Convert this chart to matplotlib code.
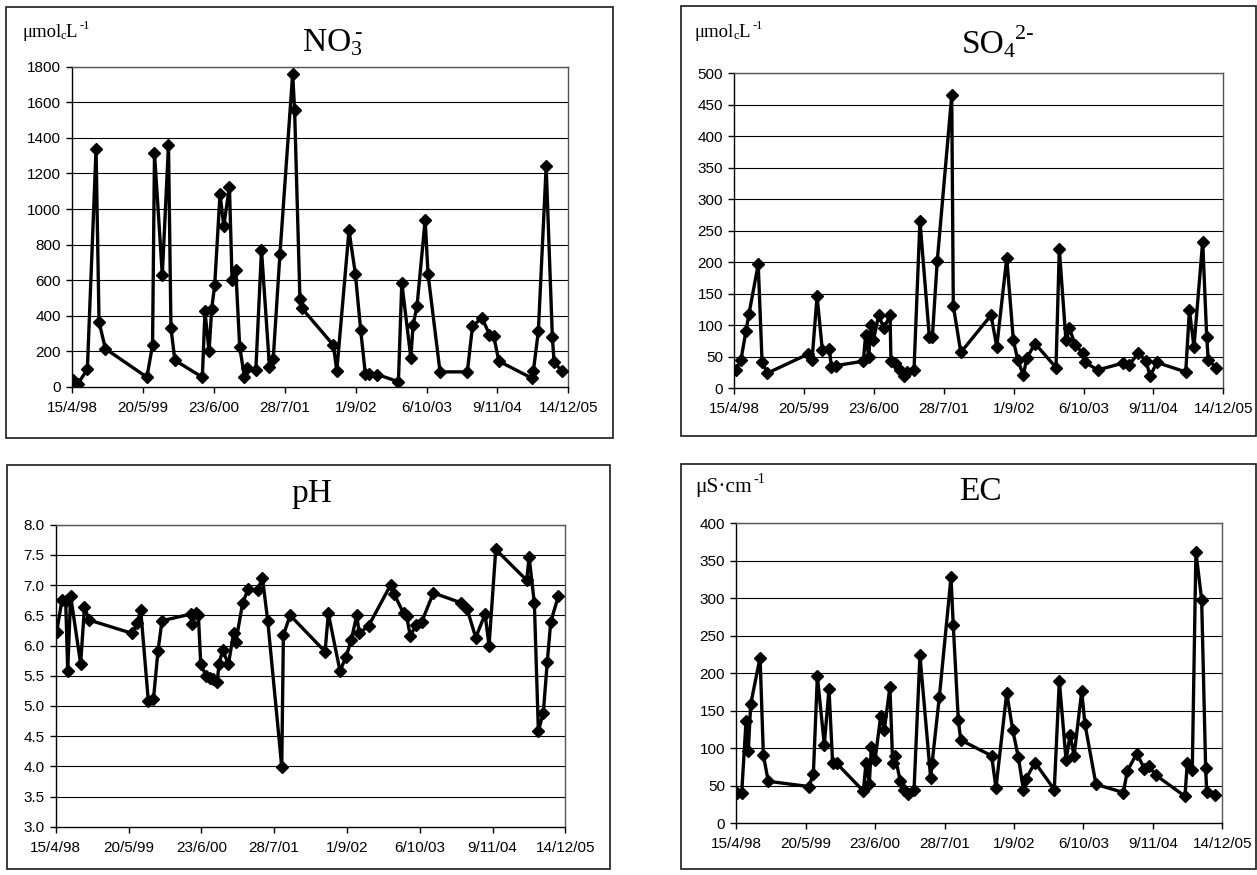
import matplotlib
matplotlib.use("Agg")
import matplotlib.pyplot as plt
from matplotlib.patches import Rectangle

# ---- data (x = days since 15/4/98) ----
xtick_labels = ['15/4/98', '20/5/99', '23/6/00', '28/7/01', '1/9/02', '6/10/03', '9/11/04', '14/12/05']
xtick_days = [0, 400, 800, 1200, 1600, 2000, 2400, 2800]

no3_days = [2, 30, 85, 134, 151, 187, 421, 453, 464, 508, 543, 557, 579, 734, 749, 772,
            787, 804, 834, 855, 887, 902, 923, 945, 972, 987, 1036, 1068, 1113, 1134, 1172,
            1244, 1255, 1285, 1294, 1474, 1493, 1562, 1598, 1628, 1654, 1675, 1722, 1841,
            1860, 1911, 1924, 1946, 1992, 2008, 2076, 2230, 2259, 2312, 2355, 2379, 2408,
            2594, 2603, 2631, 2675, 2710, 2720, 2763]
no3_vals = [40, 15, 100, 1335, 365, 215, 55, 235, 1315, 630, 1360, 330, 150, 55, 425, 200,
            440, 575, 1085, 905, 1125, 600, 655, 225, 55, 105, 95, 770, 115, 155, 745,
            1760, 1555, 495, 445, 235, 90, 880, 635, 320, 75, 75, 70, 30,
            585, 165, 350, 455, 940, 635, 85, 85, 340, 390, 295, 285, 145,
            50, 90, 315, 1240, 280, 140, 90]

so4_days = [10, 38, 67, 84, 137, 159, 189, 420, 445, 474, 504, 544, 556, 581, 739, 752,
            770, 781, 796, 827, 856, 892, 897, 920, 949, 972, 991, 1029, 1063, 1117, 1134,
            1162, 1245, 1254, 1297, 1470, 1503, 1560, 1598, 1623, 1655, 1675, 1722, 1842,
            1861, 1899, 1919, 1952, 1995, 2010, 2081, 2224, 2260, 2314, 2358, 2381, 2419,
            2585, 2606, 2632, 2682, 2705, 2714, 2758]
so4_vals = [29, 45, 91, 118, 197, 42, 24, 54, 45, 146, 61, 63, 34, 36, 43, 85,
            50, 100, 76, 116, 95, 116, 43, 40, 29, 20, 26, 29, 266, 81, 81,
            202, 465, 131, 57, 116, 66, 207, 76, 45, 21, 48, 71, 33,
            221, 76, 95, 69, 56, 41, 29, 40, 37, 56, 43, 19, 41,
            26, 124, 66, 233, 81, 45, 33]

ph_days = [5, 35, 55, 66, 82, 137, 158, 185, 421, 449, 467, 509, 537, 562, 584, 742,
           749, 773, 784, 797, 826, 848, 866, 888, 897, 918, 949, 978, 989, 1027, 1057,
           1110, 1136, 1165, 1242, 1251, 1288, 1480, 1498, 1562, 1595, 1624, 1654, 1668,
           1720, 1840, 1860, 1912, 1928, 1948, 1980, 2011, 2075, 2225, 2260, 2308, 2359,
           2381, 2418, 2588, 2601, 2630, 2652, 2679, 2701, 2720, 2762]
ph_vals = [6.22, 6.76, 6.73, 5.57, 6.82, 5.70, 6.63, 6.42, 6.20, 6.38, 6.59, 5.08, 5.11, 5.91, 6.41, 6.52,
           6.36, 6.54, 6.50, 5.69, 5.50, 5.46, 5.45, 5.40, 5.70, 5.92, 5.69, 6.21, 6.05, 6.70, 6.93,
           6.92, 7.12, 6.41, 3.99, 6.17, 6.50, 5.90, 6.53, 5.58, 5.81, 6.09, 6.50, 6.20,
           6.33, 7.00, 6.85, 6.53, 6.49, 6.16, 6.34, 6.39, 6.87, 6.71, 6.61, 6.13, 6.52,
           6.00, 7.59, 7.08, 7.47, 6.70, 4.59, 4.88, 5.73, 6.39, 6.82]

ec_days = [2, 31, 56, 69, 83, 137, 156, 184, 419, 444, 467, 507, 534, 555, 578, 732,
           747, 766, 778, 799, 832, 853, 885, 901, 914, 945, 966, 989, 1024, 1058, 1120,
           1128, 1170, 1237, 1250, 1279, 1293, 1471, 1496, 1558, 1593, 1625, 1654, 1668,
           1721, 1832, 1861, 1900, 1923, 1946, 1990, 2009, 2072, 2230, 2253, 2307, 2351,
           2378, 2418, 2585, 2598, 2627, 2648, 2681, 2704, 2710, 2758]
ec_vals = [40, 40, 136, 96, 159, 221, 91, 56, 49, 66, 196, 105, 179, 80, 80, 43,
           80, 52, 102, 84, 143, 125, 182, 80, 90, 56, 44, 39, 45, 224, 60,
           80, 169, 328, 264, 138, 111, 90, 47, 174, 124, 88, 45, 59,
           81, 45, 190, 84, 118, 90, 176, 132, 52, 41, 70, 93, 73,
           76, 64, 36, 80, 71, 362, 298, 74, 42, 38]

no3_yticks = list(range(0, 1801, 200))
so4_yticks = list(range(0, 501, 50))
ph_yticks = [3.0, 3.5, 4.0, 4.5, 5.0, 5.5, 6.0, 6.5, 7.0, 7.5, 8.0]
ec_yticks = list(range(0, 401, 50))

# ---- style ----
plt.rcParams['font.family'] = ['Liberation Sans', 'DejaVu Sans']

W, H = 1257, 875
fig = plt.figure(figsize=(W / 100, H / 100), dpi=100)
fig.patch.set_facecolor('white')
renderer = fig.canvas.get_renderer()

SERIF = ['Liberation Serif', 'DejaVu Serif']


def box(l, t, r, b):
    fig.patches.append(Rectangle((l / W, 1 - b / H), (r - l) / W, (b - t) / H,
                                 transform=fig.transFigure, fill=False,
                                 edgecolor='#1a1a1a', linewidth=1.2))


def panel(l, t, r, b, days, vals, yticks, fmt):
    ax = fig.add_axes([l / W, 1 - b / H, (r - l) / W, (b - t) / H])
    ax.plot(days, vals, color='black', linewidth=2.4, marker='D', markersize=6.2,
            markerfacecolor='black', markeredgecolor='black', solid_joinstyle='miter',
            zorder=3)
    ax.set_xlim(0, 2800)
    ax.set_ylim(yticks[0], yticks[-1])
    ax.set_xticks(xtick_days)
    ax.set_xticklabels(xtick_labels)
    ax.set_yticks(yticks)
    ax.set_yticklabels([fmt.format(v) for v in yticks])
    for y in yticks[1:]:
        ax.axhline(y, color='black', linewidth=0.8, zorder=1)
    for s in ('left', 'bottom'):
        ax.spines[s].set_color('black')
        ax.spines[s].set_linewidth(1.0)
    for s in ('top', 'right'):
        ax.spines[s].set_color('#555555')
        ax.spines[s].set_linewidth(1.0)
    ax.tick_params(axis='both', direction='out', length=4, width=1.0, color='black',
                   labelsize=11, labelcolor='black', pad=4)
    ax.tick_params(axis='x', pad=6)
    ax.set_facecolor('white')
    return ax


# boxes
box(6, 6.5, 613, 437.5)
box(680.7, 5.7, 1256, 436)
box(6.7, 465, 610, 869.3)
box(680.7, 464, 1256, 869.3)

panel(72.3, 66.7, 568.3, 387, no3_days, no3_vals, no3_yticks, '{:d}')
panel(734.3, 73.3, 1223.3, 388.3, so4_days, so4_vals, so4_yticks, '{:d}')
panel(55.7, 524.7, 565.3, 826.7, ph_days, ph_vals, ph_yticks, '{:.1f}')
panel(736.3, 523.3, 1222.3, 823.3, ec_days, ec_vals, ec_yticks, '{:d}')


def chain(x, y, parts):
    """parts: list of (string, fontsize, raise_px, gap_px, advance) drawn left to right."""
    cx = x
    for s, size, dy, gap, adv in parts:
        t = fig.text((cx + gap) / W, 1 - (y - dy) / H, s, fontsize=size, family=SERIF,
                     va='baseline', ha='left', color='black')
        bb = t.get_window_extent(renderer=renderer)
        if adv:
            cx += gap + bb.width


# titles
T = 24
S = T * 0.66
chain(303, 51, [('NO', T, 0, 0, True), ('3', S, -4, 0, False), ('-', S, 13, 3, True)])
chain(961.5, 53, [('SO', T, 0, 0, True), ('4', S, -4, -1, True), ('2-', S, 14, 1, True)])
chain(291.5, 501.5, [('pH', T, 0, 0, True)])
chain(959, 500, [('EC', T, 0, 0, True)])

# units
U = 13.5
u = U * 0.66
chain(22, 36.7, [('\u03bcmol', U, 0, 0, True), ('c', u, -2, -1, True), ('L', U, 0, 0, True),
                 ('-1', u, 8, 2, True)])
chain(695, 36.7, [('\u03bcmol', U, 0, 0, True), ('c', u, -2, -1, True), ('L', U, 0, 0, True),
                  ('-1', u, 8, 2, True)])
E = 15.5
chain(695, 492, [('\u03bcS\u00b7cm', E, 0, 0, True), ('-1', E * 0.66, 9, 2, True)])

fig.savefig('out.png', dpi=100, facecolor='white')
